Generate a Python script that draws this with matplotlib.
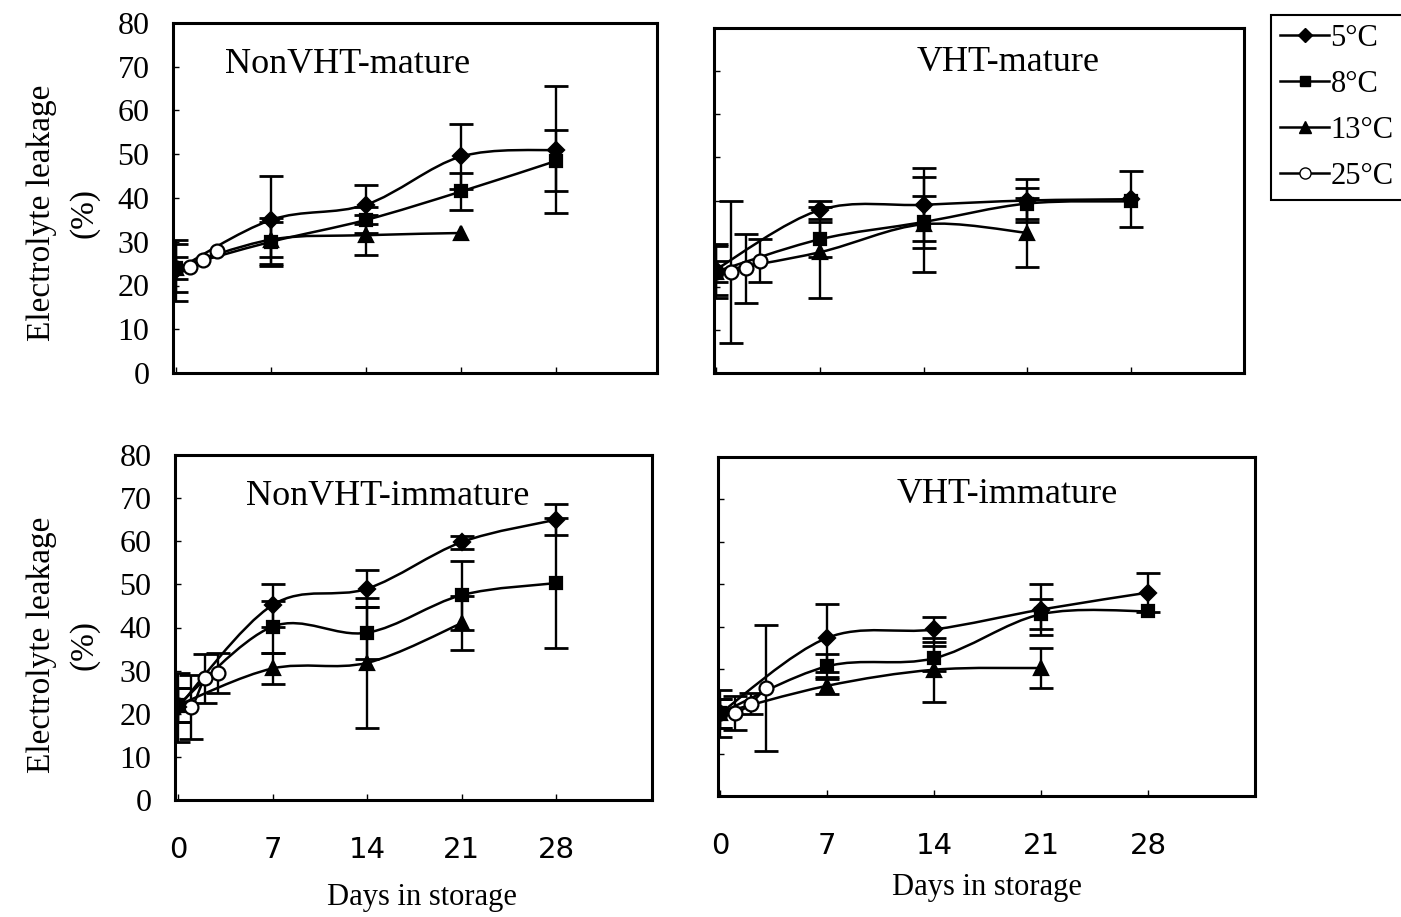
import numpy as np
import matplotlib.pyplot as plt
from matplotlib.path import Path
from matplotlib.patches import PathPatch
from matplotlib.lines import Line2D

# storage days
days = [0, 7, 14, 21, 28]
days_13 = [0, 7, 14, 21]
days_25 = [0, 1, 2, 3]

titles = ['NonVHT-mature', 'VHT-mature', 'NonVHT-immature', 'VHT-immature']
temps = ['5\u00b0C', '8\u00b0C', '13\u00b0C', '25\u00b0C']
xticks = [0, 7, 14, 21, 28]
yticks = [0, 10, 20, 30, 40, 50, 60, 70, 80]

# NonVHT-mature
nm_5 = [23.5, 35, 38.5, 49.5, 51]
nm_5_err = [7, 10, 4.5, 7.5, 14.5]
nm_8 = [24, 30, 35, 41.5, 48.5]
nm_8_err = [5.5, 5.5, 3, 4.3, 7]
nm_13 = [24, 30.5, 31.5, 32]
nm_13_err = [2.5, 4, 4.6, 0]
nm_25 = [24, 24.2, 25.8, 27.8]
nm_25_err = [0, 0, 0, 0]

# VHT-mature
vm_5 = [24, 37.8, 39, 40, 40.3]
vm_5_err = [6, 2, 8.5, 5, 6.5]
vm_8 = [23.5, 31, 35, 39.3, 39.8]
vm_8_err = [2.5, 4, 6, 3.5, 0]
vm_13 = [23.5, 28, 34.5, 32.5]
vm_13_err = [6, 10.5, 11, 8]
vm_25 = [23.5, 23.5, 24.3, 26]
vm_25_err = [0, 16.5, 8, 5]

# NonVHT-immature
ni_5 = [21.5, 45.2, 49, 59.8, 65]
ni_5_err = [8, 5, 4.3, 1.5, 3.6]
ni_8 = [22, 40.2, 38.8, 47.5, 50.3]
ni_8_err = [4, 6, 6, 8, 15]
ni_13 = [22, 30.5, 31.8, 41]
ni_13_err = [4, 3.5, 15, 6.3]
ni_25 = [22, 21.6, 28.2, 29.5]
ni_25_err = [0, 7.5, 5.7, 4.7]

# VHT-immature
vi_5 = [19.5, 37.3, 39.3, 44, 48]
vi_5_err = [5.5, 8, 3, 6, 4.6]
vi_8 = [19.5, 30.6, 32.5, 42.9, 43.6]
vi_8_err = [3.5, 3, 3, 3.5, 0]
vi_13 = [19.5, 26, 29.8, 30.2]
vi_13_err = [3.5, 2, 7.6, 4.8]
vi_25 = [19.5, 19.5, 21.8, 25.5]
vi_25_err = [0, 4, 2.5, 14.8]

serif = 'Liberation Serif'
W, H = 1401, 917


def smooth_line(ax, x, y):
    # Excel-like smoothed line through the points (cubic bezier segments)
    pts = np.column_stack([x, y]).astype(float)
    n = len(pts)
    verts = [pts[0]]
    codes = [Path.MOVETO]
    for i in range(n - 1):
        p0 = pts[max(i - 1, 0)]
        p1 = pts[i]
        p2 = pts[i + 1]
        p3 = pts[min(i + 2, n - 1)]
        verts += [p1 + (p2 - p0) / 6, p2 - (p3 - p1) / 6, p2]
        codes += [Path.CURVE4] * 3
    ax.add_patch(PathPatch(Path(verts, codes), fill=False, lw=1.8,
                           edgecolor='black', zorder=2))


def draw_series(ax, x, y, err, marker, ms, face, z=4):
    smooth_line(ax, x, y)
    x = np.array(x, float)
    y = np.array(y, float)
    err = np.array(err, float)
    m = err > 0
    if m.any():
        ax.errorbar(x[m], y[m], yerr=err[m], fmt='none', ecolor='black',
                    elinewidth=1.7, capsize=8.5, capthick=2, zorder=3)
    ax.plot(x, y, linestyle='none', marker=marker, ms=ms, mfc=face,
            mec='black', mew=1.6, zorder=z)


def px_axes(left, right, top, bottom):
    return [left / W, (H - bottom) / H, (right - left) / W, (bottom - top) / H]


fig = plt.figure(figsize=(14.01, 9.17), dpi=100)

boxes = [px_axes(173, 657, 23, 373), px_axes(714, 1244, 28, 373),
         px_axes(175, 652, 455, 800), px_axes(718, 1255, 457, 796)]
xlims = [(-0.22, 35.4), (-0.13, 35.6), (-0.22, 35.1), (-0.13, 35.0)]
ylims = [(0, 80), (0, 78.9), (0, 80), (0, 80)]
title_pos = [(0.36, 0.88), (0.555, 0.9), (0.446, 0.88), (0.538, 0.89)]

panels = [
    (nm_5, nm_5_err, nm_8, nm_8_err, nm_13, nm_13_err, nm_25, nm_25_err),
    (vm_5, vm_5_err, vm_8, vm_8_err, vm_13, vm_13_err, vm_25, vm_25_err),
    (ni_5, ni_5_err, ni_8, ni_8_err, ni_13, ni_13_err, ni_25, ni_25_err),
    (vi_5, vi_5_err, vi_8, vi_8_err, vi_13, vi_13_err, vi_25, vi_25_err),
]

for k in range(4):
    ax = fig.add_axes(boxes[k])
    c5, e5, c8, e8, c13, e13, c25, e25 = panels[k]
    draw_series(ax, days_25, c25, e25, 'o', 10, 'white', z=3.5)
    draw_series(ax, days, c5, e5, 'D', 8, 'black')
    draw_series(ax, days, c8, e8, 's', 8.5, 'black')
    draw_series(ax, days_13, c13, e13, '^', 9.5, 'black')

    ax.set_xlim(*xlims[k])
    ax.set_ylim(*ylims[k])
    ax.set_xticks(xticks)
    ax.set_yticks(yticks)
    for s in ax.spines.values():
        s.set_linewidth(2.2)
    ax.tick_params(direction='in', length=4, width=1)
    ax.text(title_pos[k][0], title_pos[k][1], titles[k], transform=ax.transAxes,
            ha='center', va='center', fontsize=26, family=serif)

    if k in (0, 2):
        ax.set_yticklabels([str(v) for v in yticks], family=serif, fontsize=23)
        ax.tick_params(axis='y', pad=17)
    else:
        ax.set_yticklabels([])
    if k in (2, 3):
        ax.set_xticklabels([str(v) for v in xticks], family='DejaVu Sans',
                           fontsize=21)
        ax.tick_params(axis='x', pad=26)
    else:
        ax.set_xticklabels([])

# axis labels
for yc in (213, 645):
    fig.text(63 / W, (H - yc) / H, 'Electrolyte leakage\n(%)', rotation=90,
             ha='center', va='center', multialignment='center',
             fontsize=24, family=serif, linespacing=1.5)
fig.text(422 / W, (H - 897) / H, 'Days in storage', ha='center', va='center',
         fontsize=22, family=serif)
fig.text(987 / W, (H - 887) / H, 'Days in storage', ha='center', va='center',
         fontsize=22, family=serif)

# legend
handles = [
    Line2D([], [], color='black', lw=1.8, marker='D', ms=7, mfc='black', mec='black'),
    Line2D([], [], color='black', lw=1.8, marker='s', ms=7.5, mfc='black', mec='black'),
    Line2D([], [], color='black', lw=1.8, marker='^', ms=8, mfc='black', mec='black'),
    Line2D([], [], color='black', lw=1.8, marker='o', ms=8, mfc='white', mec='black'),
]
leg = fig.legend(handles, temps, loc='upper left',
                 bbox_to_anchor=(1271 / W, (H - 15) / H),
                 prop={'family': serif, 'size': 22}, frameon=True,
                 fancybox=False, edgecolor='black', framealpha=1,
                 handlelength=1.6, handletextpad=0.05, labelspacing=0.55,
                 borderpad=0.3, borderaxespad=0)
leg.get_frame().set_linewidth(1.5)

fig.savefig('out.png', dpi=100)
